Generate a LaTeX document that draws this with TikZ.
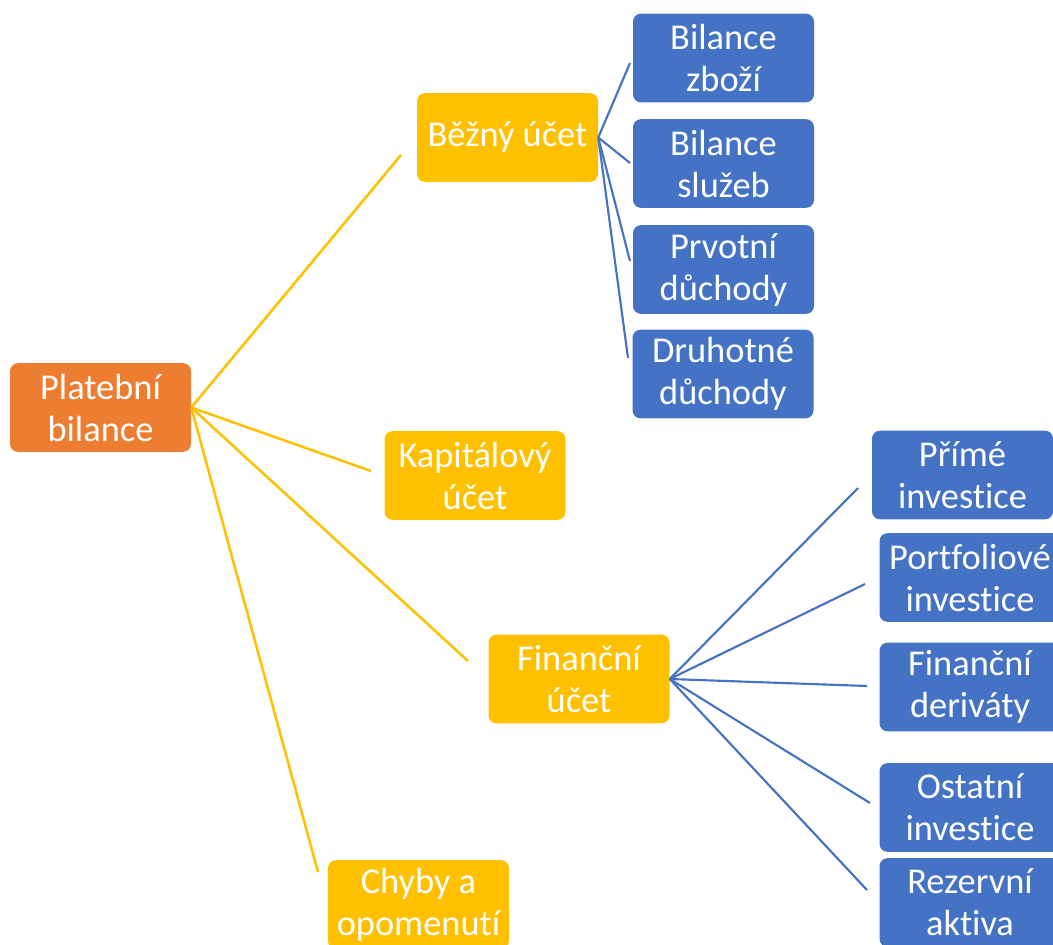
\documentclass[tikz,border=0pt]{standalone}
\usepackage{fontspec}
\setmainfont[Ligatures=NoCommon]{Carlito}

\begin{document}
\begin{tikzpicture}[x=0.75pt,y=0.75pt,yscale=-1,
  box/.style={rounded corners=6pt,minimum width=135.75pt,minimum height=66.5pt,inner sep=0pt,align=center,text={rgb, 255:red, 255; green, 255; blue, 255 },font=\fontsize{27.3}{31.5}\selectfont},
  rootbox/.style={box,fill={rgb, 255:red, 237; green, 125; blue, 49 }},
  mainbox/.style={box,fill={rgb, 255:red, 255; green, 192; blue, 0 }},
  subbox/.style={box,fill={rgb, 255:red, 68; green, 114; blue, 196 }},
  mainline/.style={draw={rgb, 255:red, 255; green, 192; blue, 0 },line width=1.9pt},
  subline/.style={draw={rgb, 255:red, 68; green, 114; blue, 196 },line width=1.6pt}]

%set diagram left start at 0, and has height of 945
\clip (0,0) rectangle (1053,945);

% Text Node
\node [rootbox] (plat) at (100.5,407.5) {Platební\\bilance};
% Text Node
\node [mainbox] (bezny) at (507.5,137.5) {Běžný účet};
% Text Node
\node [mainbox] (kapital) at (475,475.5) {Kapitálový\\účet};
% Text Node
\node [mainbox] (financni) at (579,679) {Finanční\\účet};
% Text Node
\node [mainbox] (chyby) at (418.5,904.5) {Chyby a\\opomenutí};

% Text Node
\node [subbox] (zbozi) at (723.5,58) {Bilance\\zboží};
% Text Node
\node [subbox] (sluzby) at (723.5,163.5) {Bilance\\služeb};
% Text Node
\node [subbox] (prvotni) at (723.5,269.5) {Prvotní\\důchody};
% Text Node
\node [subbox] (druhotne) at (723,374) {Druhotné\\důchody};

% Text Node
\node [subbox] (prime) at (962.5,475) {Přímé\\investice};
% Text Node
\node [subbox] (portfolio) at (970,577.5) {Portfoliové\\investice};
% Text Node
\node [subbox] (derivaty) at (970,687) {Finanční\\deriváty};
% Text Node
\node [subbox] (ostatni) at (970,807.5) {Ostatní\\investice};
% Text Node
\node [subbox] (rezervni) at (970,902.5) {Rezervní\\aktiva};

% free ends of the lines
\coordinate (bezny-in) at (401,155);
\coordinate (kapital-in) at (371,471);
\coordinate (financni-in) at (468,661);
\coordinate (chyby-in) at (318,872);
\coordinate (zbozi-in) at (630,63);
\coordinate (sluzby-in) at (630,163);
\coordinate (prvotni-in) at (630,261);
\coordinate (druhotne-in) at (628,358);
\coordinate (prime-in) at (858,488);
\coordinate (portfolio-in) at (865,584);
\coordinate (derivaty-in) at (867,686);
\coordinate (ostatni-in) at (870,803);
\coordinate (rezervni-in) at (867,890);

%Straight Lines
\foreach \t in {bezny,kapital,financni,chyby}
  \draw [mainline] (plat.east) -- (\t-in);
%Straight Lines
\foreach \t in {zbozi,sluzby,prvotni,druhotne}
  \draw [subline] (bezny.east) -- (\t-in);
%Straight Lines
\foreach \t in {prime,portfolio,derivaty,ostatni,rezervni}
  \draw [subline] (financni.east) -- (\t-in);
\end{tikzpicture}
\end{document}
